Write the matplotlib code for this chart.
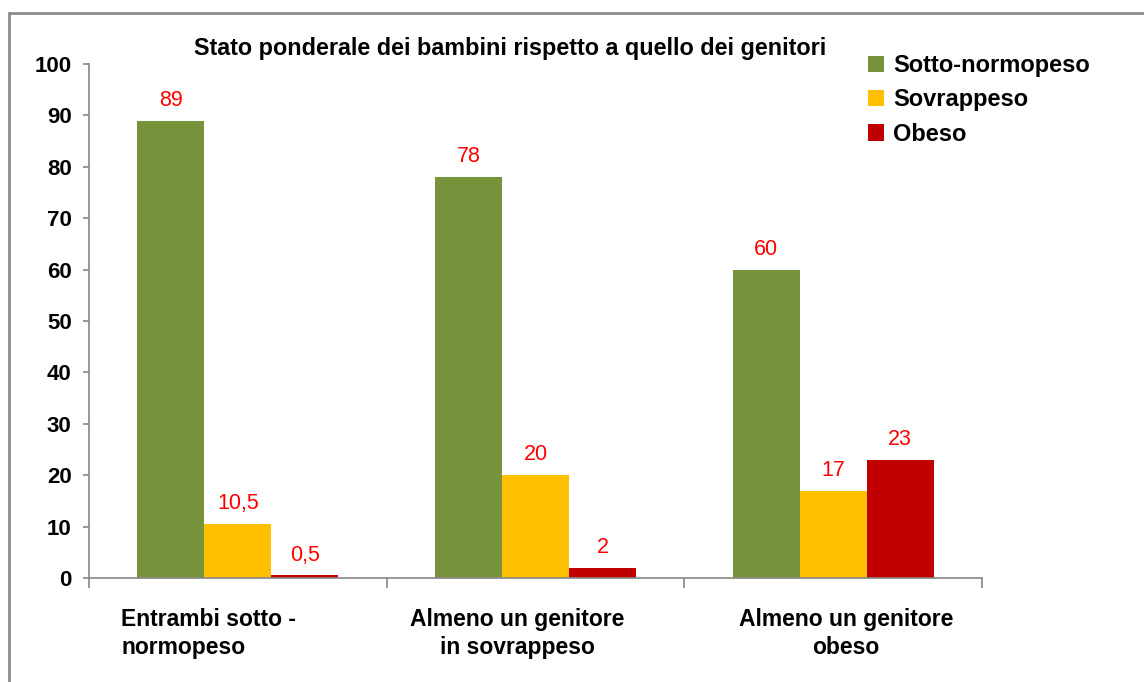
import numpy as np
import matplotlib
matplotlib.use("Agg")
import matplotlib.pyplot as plt
import matplotlib.patches as mpatches
import matplotlib.transforms as mtransforms

plt.rcParams['font.family'] = ['Liberation Sans', 'DejaVu Sans']

# dati
categorie = ["Entrambi sotto -\nnormopeso", "Almeno un genitore\nin sovrappeso", "Almeno un genitore\nobeso"]
serie = ["Sotto-normopeso", "Sovrappeso", "Obeso"]
sotto_normopeso = [89, 78, 60]
sovrappeso = [10.5, 20, 17]
obeso = [0.5, 2, 23]
etichette = [["89", "78", "60"], ["10,5", "20", "17"], ["0,5", "2", "23"]]
colori = ["#77933C", "#FFC000", "#C00000"]

fig = plt.figure(figsize=(11.44, 6.82), dpi=100)
ax = fig.add_axes([89/1144, 1-578/682, (982-89)/1144, (578-64)/682])

grigio = "#868686"
x = np.arange(len(categorie))
w = 0.225
valori = [sotto_normopeso, sovrappeso, obeso]
for k in range(3):
    bars = ax.bar(x + (k-1)*w, valori[k], w, color=colori[k], label=serie[k])
    for b, t in zip(bars, etichette[k]):
        ax.annotate(t, (b.get_x()+b.get_width()/2, b.get_height()), xytext=(0, 7),
                    textcoords="offset points", ha="center", va="bottom",
                    color="#FF0000", fontsize=15.5)

ax.set_xlim(-0.5, 2.5)
ax.set_ylim(0, 100)
ax.set_yticks(range(0, 101, 10))
ax.set_xticks([-0.5, 0.5, 1.5, 2.5])
ax.set_xticklabels([])
ax.tick_params(axis="x", direction="out", length=7, width=1.2, color=grigio)
ax.tick_params(axis="y", direction="out", length=4.5, width=1.2, color=grigio, pad=8,
               labelsize=16)
for t in ax.get_yticklabels():
    t.set_fontweight("bold")
for s in ["top", "right"]:
    ax.spines[s].set_visible(False)
for s in ["left", "bottom"]:
    ax.spines[s].set_color(grigio)
    ax.spines[s].set_linewidth(1.2)

# etichette categorie
spost = [-29, -18, 13]
allin = ["left", "center", "center"]
for i, c in enumerate(categorie):
    tr = ax.get_xaxis_transform() + mtransforms.ScaledTranslation(spost[i]/100, 0, fig.dpi_scale_trans)
    ax.text(i, -0.058, c, transform=tr, ha="center", va="top", multialignment=allin[i],
            fontsize=16.5, fontweight="bold", linespacing=1.3)

fig.text(510/1144, 1-49/682, "Stato ponderale dei bambini rispetto a quello dei genitori",
         ha="center", va="center", fontsize=16.8, fontweight="bold")

fig.legend(loc="upper left", bbox_to_anchor=(868/1144, 1-54/682), frameon=False,
           prop={"weight": "bold", "size": 17}, handlelength=0.68, handleheight=0.68,
           labelspacing=0.48, handletextpad=0.38, borderpad=0, borderaxespad=0)

fig.patches.append(mpatches.Rectangle((9/1144, -0.1), 1.2, 1.1 - 13/682, transform=fig.transFigure,
                                      fill=False, edgecolor="#8C8C8C", linewidth=2))

fig.savefig("out.png", dpi=100)
